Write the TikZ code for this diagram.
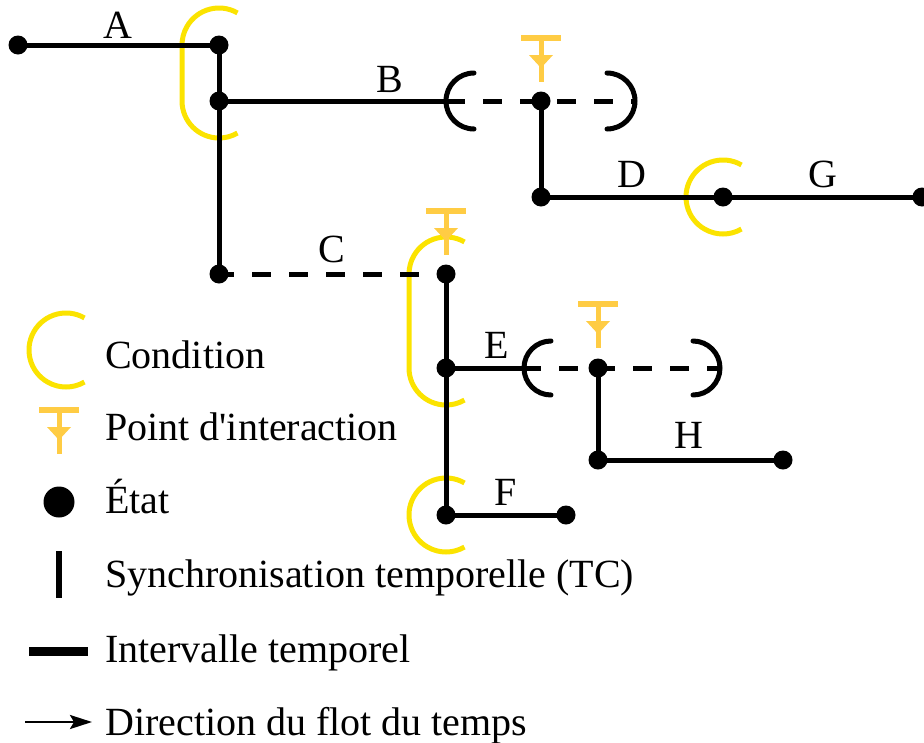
\documentclass[tikz,border=0pt]{standalone}
\usepackage{fontspec}
\setmainfont{Liberation Serif}[Ligatures=TeXOff]
\usetikzlibrary{calc,arrows.meta,backgrounds}
\definecolor{condcol}{HTML}{FBE300}
\definecolor{ipcol}{HTML}{FFCC44}
\tikzset{
  pics/ipt/.style={code={
    \draw[ipcol,line width=6pt] (-20pt,0pt) -- (20pt,0pt);
    \draw[ipcol,line width=5pt] (0pt,0pt) -- (0pt,-44pt);
    \fill[ipcol] (-12pt,-17pt) -- (12pt,-17pt) -- (0pt,-30pt) -- cycle;
  }}
}
\begin{document}
\begin{tikzpicture}[x=1pt,y=-1pt,font=\fontsize{40}{48}\selectfont,
  st/.style={circle,fill=black,inner sep=0pt,minimum size=19pt},
  iv/.style={line width=5pt},
  ivd/.style={line width=5pt,dash pattern=on 18.5pt off 18.5pt},
  cond/.style={draw=condcol,line width=5pt},
  brk/.style={line width=5pt,line cap=round},
  lbl/.style={anchor=base,inner sep=0pt},
  lg/.style={anchor=base west,inner sep=0pt}]
\useasboundingbox (0,0) rectangle (924,742);

% states
\node[st] (a0) at (18,45) {};
\node[st] (a1) at (219,45) {};
\node[st] (b0) at (219,101) {};
\node[st] (c0) at (219,274) {};
\node[st] (p1) at (541,101) {};
\node[st] (d0) at (541,197) {};
\node[st] (g0) at (723,197) {};
\node[st] (g1) at (922,197) {};
\node[st] (c1) at (446,274) {};
\node[st] (e0) at (446,368) {};
\node[st] (f0) at (446,515) {};
\node[st] (f1) at (566,515) {};
\node[st] (p2) at (598,368) {};
\node[st] (h0) at (598,460) {};
\node[st] (h1) at (783,460) {};

\coordinate (bl) at (446,101);
\coordinate (br) at (635,101);
\coordinate (el) at (522,368);
\coordinate (er) at (720,368);

\begin{pgfonlayer}{background}
  % conditions
  \draw[cond] ($(a1)+(60:37pt)$) arc[start angle=60,end angle=180,radius=37pt]
     -- ($(b0)+(180:37pt)$) arc[start angle=180,end angle=300,radius=37pt];
  \draw[cond] ($(g0)+(60:37pt)$) arc[start angle=60,end angle=300,radius=37pt];
  \draw[cond] ($(c1)+(60:37pt)$) arc[start angle=60,end angle=180,radius=37pt]
     -- ($(e0)+(180:37pt)$) arc[start angle=180,end angle=300,radius=37pt];
  \draw[cond] ($(f0)+(60:37pt)$) arc[start angle=60,end angle=300,radius=37pt];
  % intervals
  \draw[iv] (a0.center) -- (a1.center);
  \draw[iv] (a1.center) -- (b0.center);
  \draw[iv] (b0.center) -- (c0.center);
  \draw[iv] (b0.center) -- (bl);
  \draw[ivd] (bl) -- (br);
  \draw[iv] (p1.center) -- (d0.center);
  \draw[iv] (d0.center) -- (g0.center);
  \draw[iv] (g0.center) -- (g1.center);
  \draw[ivd,dash phase=4pt] (c0.center) -- (c1.center);
  \draw[iv] (c1.center) -- (e0.center);
  \draw[iv] (e0.center) -- (f0.center);
  \draw[iv] (f0.center) -- (f1.center);
  \draw[iv] (e0.center) -- (el);
  \draw[ivd] (el) -- (er);
  \draw[iv] (p2.center) -- (h0.center);
  \draw[iv] (h0.center) -- (h1.center);
  % brackets
  \draw[brk] ($(bl)+(28pt,28pt)$) arc[start angle=90,end angle=270,radius=28pt];
  \draw[brk] ($(br)+(-28pt,28pt)$) arc[start angle=90,end angle=-90,radius=28pt];
  \draw[brk] ($(el)+(29pt,27pt)$) arc[start angle=90,end angle=270,radius=27pt];
  \draw[brk] ($(er)+(-27pt,27pt)$) arc[start angle=90,end angle=-90,radius=27pt];
\end{pgfonlayer}

% interaction points
\pic at (541,38) {ipt};
\pic at (446,211) {ipt};
\pic at (598,304) {ipt};

% labels
\node[lbl] (lA) at (118,38) {A};
\node[lbl] (lB) at (390,92) {B};
\node[lbl] (lC) at (332,262) {C};
\node[lbl] (lD) at (632,187) {D};
\node[lbl] (lG) at (823,187) {G};
\node[lbl] (lE) at (497,358) {E};
\node[lbl] (lH) at (689,448) {H};
\node[lbl] (lF) at (506,505) {F};

% legend
\coordinate (kc) at (66,350);
\draw[cond] ($(kc)+(60:37pt)$) arc[start angle=60,end angle=300,radius=37pt];
\node[lg] (t1) at (105,368) {Condition};
\pic at (59,410) {ipt};
\node[lg] (t2) at (105,440) {Point d'interaction};
\node[circle,fill=black,inner sep=0pt,minimum size=31pt] (kd) at (59,502) {};
\node[lg] (t3) at (105,513) {État};
\coordinate (kv1) at (59,551);
\coordinate (kv2) at (59,598);
\draw[line width=6pt] (kv1) -- (kv2);
\node[lg] (t4) at (105,587) {Synchronisation temporelle (TC)};
\coordinate (kh1) at (29,651);
\coordinate (kh2) at (88,651);
\draw[line width=9pt] (kh1) -- (kh2);
\node[lg] (t5) at (105,662) {Intervalle temporel};
\coordinate (ka1) at (25,722);
\coordinate (ka2) at (92,722);
\draw[line width=2.5pt,-{Stealth[length=22pt,width=14pt,inset=4pt]}] (ka1) -- (ka2);
\node[lg] (t6) at (105,735) {Direction du flot du temps};
\end{tikzpicture}
\end{document}
